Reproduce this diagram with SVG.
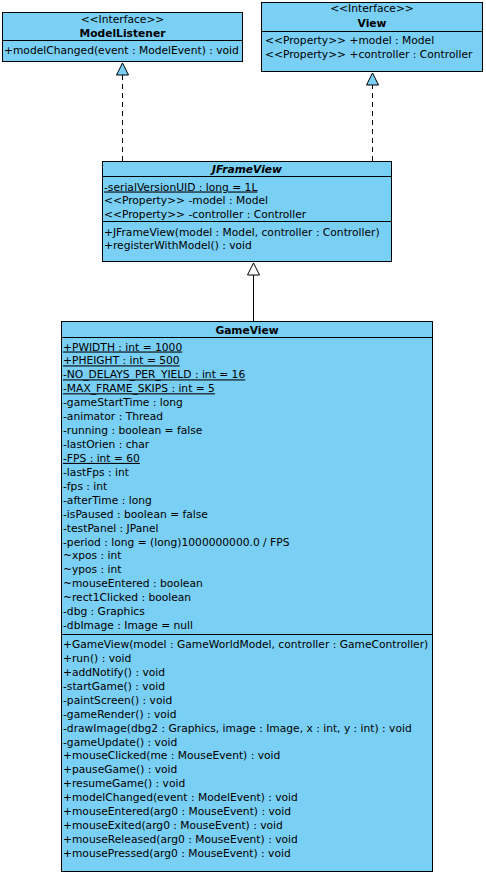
<svg xmlns="http://www.w3.org/2000/svg" width="486" height="876" viewBox="0 0 486 876">
<style>
.box{fill:#7acff5;stroke:#000;stroke-width:1}
.div{stroke:#000;stroke-width:1}
text{font-family:"DejaVu Sans","Liberation Sans",sans-serif;font-size:10.7px;fill:#000}
.t{font-weight:bold;text-anchor:middle}
.c{text-anchor:middle}
.u{text-decoration:underline}
.dash{stroke:#000;stroke-width:1;stroke-dasharray:5,4;fill:none}
.solid{stroke:#000;stroke-width:1;fill:none}
</style>
<rect width="486" height="876" fill="#fff"/>
<g id="connectors">
<line class="dash" x1="122.5" y1="161" x2="122.5" y2="75"/>
<polygon points="122.5,63 116.5,75 128.5,75" fill="#7acff5" stroke="#000"/>
<line class="dash" x1="372.5" y1="161" x2="372.5" y2="85"/>
<polygon points="372.5,73 366.5,85 378.5,85" fill="#7acff5" stroke="#000"/>
<line class="solid" x1="253.5" y1="321" x2="253.5" y2="275"/>
<polygon points="253.5,263 247.5,275 259.5,275" fill="#fff" stroke="#000"/>
</g>
<g id="ModelListener">
<rect class="box" x="2.5" y="12.5" width="240" height="49"/>
<text class="c" x="122.5" y="23">&lt;&lt;Interface&gt;&gt;</text>
<text class="t" x="122.5" y="37">ModelListener</text>
<line class="div" x1="2.5" y1="40.5" x2="242.5" y2="40.5"/>
<text x="4" y="54">+modelChanged(event : ModelEvent) : void</text>
</g>
<g id="View">
<rect class="box" x="261.5" y="2.5" width="221" height="69"/>
<text class="c" x="372" y="12">&lt;&lt;Interface&gt;&gt;</text>
<text class="t" x="372" y="27">View</text>
<line class="div" x1="261.5" y1="31.5" x2="482.5" y2="31.5"/>
<text x="265" y="44">&lt;&lt;Property&gt;&gt; +model : Model</text>
<text x="265" y="57.5">&lt;&lt;Property&gt;&gt; +controller : Controller</text>
</g>
<g id="JFrameView">
<rect class="box" x="102.5" y="161.5" width="289" height="100"/>
<text class="t" x="247" y="173" font-style="italic">JFrameView</text>
<line class="div" x1="102.5" y1="176.5" x2="391.5" y2="176.5"/>
<text class="u" x="104" y="190.5">-serialVersionUID : long = 1L</text>
<text x="104" y="204">&lt;&lt;Property&gt;&gt; -model : Model</text>
<text x="104" y="217.5">&lt;&lt;Property&gt;&gt; -controller : Controller</text>
<line class="div" x1="102.5" y1="221.5" x2="391.5" y2="221.5"/>
<text x="104" y="235.5">+JFrameView(model : Model, controller : Controller)</text>
<text x="104" y="249">+registerWithModel() : void</text>
</g>
<g id="GameView">
<rect class="box" x="61.5" y="321.5" width="371" height="550"/>
<text class="t" x="247" y="334">GameView</text>
<line class="div" x1="61.5" y1="337.5" x2="432.5" y2="337.5"/>
<text class="u" x="63" y="350.5">+PWIDTH : int = 1000</text>
<text class="u" x="63" y="364.4">+PHEIGHT : int = 500</text>
<text class="u" x="63" y="378.4">-NO_DELAYS_PER_YIELD : int = 16</text>
<text class="u" x="63" y="392.3">-MAX_FRAME_SKIPS : int = 5</text>
<text x="63" y="406.2">-gameStartTime : long</text>
<text x="63" y="420.1">-animator : Thread</text>
<text x="63" y="434.1">-running : boolean = false</text>
<text x="63" y="448">-lastOrien : char</text>
<text class="u" x="63" y="461.9">-FPS : int = 60</text>
<text x="63" y="475.9">-lastFps : int</text>
<text x="63" y="489.8">-fps : int</text>
<text x="63" y="503.7">-afterTime : long</text>
<text x="63" y="517.7">-isPaused : boolean = false</text>
<text x="63" y="531.6">-testPanel : JPanel</text>
<text x="63" y="545.5">-period : long = (long)1000000000.0 / FPS</text>
<text x="63" y="559.4">~xpos : int</text>
<text x="63" y="573.4">~ypos : int</text>
<text x="63" y="587.3">~mouseEntered : boolean</text>
<text x="63" y="601.2">~rect1Clicked : boolean</text>
<text x="63" y="615.2">-dbg : Graphics</text>
<text x="63" y="629.1">-dbImage : Image = null</text>
<line class="div" x1="61.5" y1="634.5" x2="432.5" y2="634.5"/>
<text x="63" y="648">+GameView(model : GameWorldModel, controller : GameController)</text>
<text x="63" y="661.9">+run() : void</text>
<text x="63" y="675.9">+addNotify() : void</text>
<text x="63" y="689.8">-startGame() : void</text>
<text x="63" y="703.7">-paintScreen() : void</text>
<text x="63" y="717.7">-gameRender() : void</text>
<text x="63" y="731.6">-drawImage(dbg2 : Graphics, image : Image, x : int, y : int) : void</text>
<text x="63" y="745.5">-gameUpdate() : void</text>
<text x="63" y="759.4">+mouseClicked(me : MouseEvent) : void</text>
<text x="63" y="773.4">+pauseGame() : void</text>
<text x="63" y="787.3">+resumeGame() : void</text>
<text x="63" y="801.2">+modelChanged(event : ModelEvent) : void</text>
<text x="63" y="815.2">+mouseEntered(arg0 : MouseEvent) : void</text>
<text x="63" y="829.1">+mouseExited(arg0 : MouseEvent) : void</text>
<text x="63" y="843">+mouseReleased(arg0 : MouseEvent) : void</text>
<text x="63" y="857">+mousePressed(arg0 : MouseEvent) : void</text>
</g>
</svg>
